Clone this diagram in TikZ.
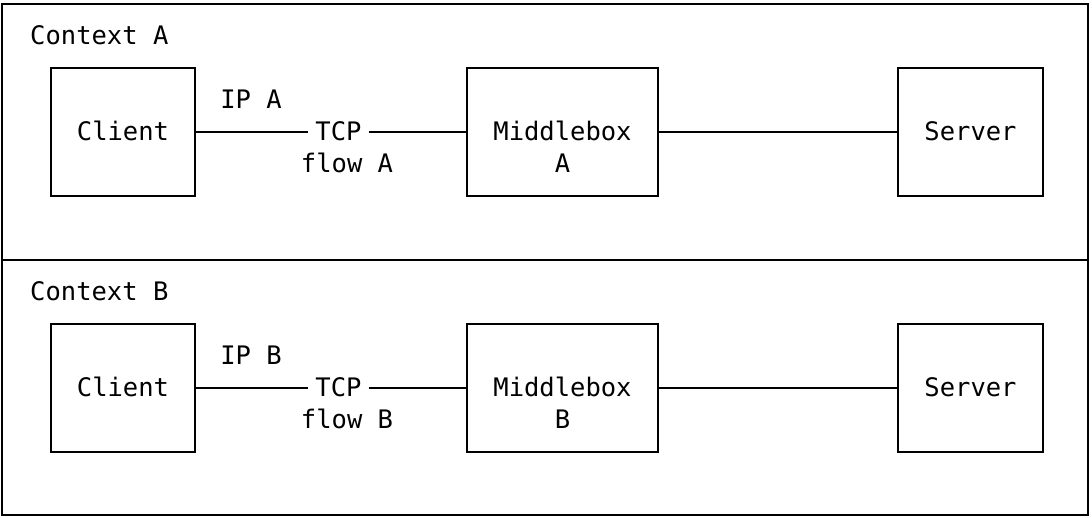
\documentclass[tikz,border=0pt]{standalone}
\usepackage{fontspec}
\setmonofont{DejaVu Sans Mono}
\begin{document}
\begin{tikzpicture}[x=1pt,y=-1pt,
  every node/.style={font=\ttfamily\fontsize{25.5}{32}\selectfont, inner sep=0pt},
  box/.style={draw, line width=2pt, rectangle, minimum width=#1, minimum height=128pt},
  txt/.style={anchor=base},
  wire/.style={line width=2pt},
  frame/.style={line width=2pt}]
\useasboundingbox (0,0) rectangle (1092,517);
% outer frame and divider between the two contexts
\draw[frame] (2,4) rectangle (1088,515);
\draw[frame] (2,260) -- (1088,260);
\foreach \ctx/\dy in {A/0, B/256} {
  \node[anchor=base west] (ctx\ctx) at (30,44+\dy) {Context \ctx};
  % boxes
  \node[box=144pt] (client\ctx) at (123,132+\dy) {};
  \node[box=191pt] (mb\ctx) at (562.5,132+\dy) {};
  \node[box=145pt] (server\ctx) at (970.5,132+\dy) {};
  % box texts
  \node[txt] (clientt\ctx) at (123,140+\dy) {Client};
  \node[txt] (mbt\ctx) at (562.5,140+\dy) {Middlebox};
  \node[txt] (mbtb\ctx) at (562.5,172+\dy) {\ctx};
  \node[txt] (servert\ctx) at (970.5,140+\dy) {Server};
  % flow label
  \node[txt, inner xsep=7pt] (tcp\ctx) at (338.5,140+\dy) {TCP};
  \node[txt] (ip\ctx) at (251,108+\dy) {IP \ctx};
  \node[txt] (flow\ctx) at (347,172+\dy) {flow \ctx};
  % connectors
  \draw[wire] (client\ctx.east) -- (client\ctx.east -| tcp\ctx.west);
  \draw[wire] (mb\ctx.west -| tcp\ctx.east) -- (mb\ctx.west);
  \draw[wire] (mb\ctx.east) -- (server\ctx.west);
}
\end{tikzpicture}
\end{document}
